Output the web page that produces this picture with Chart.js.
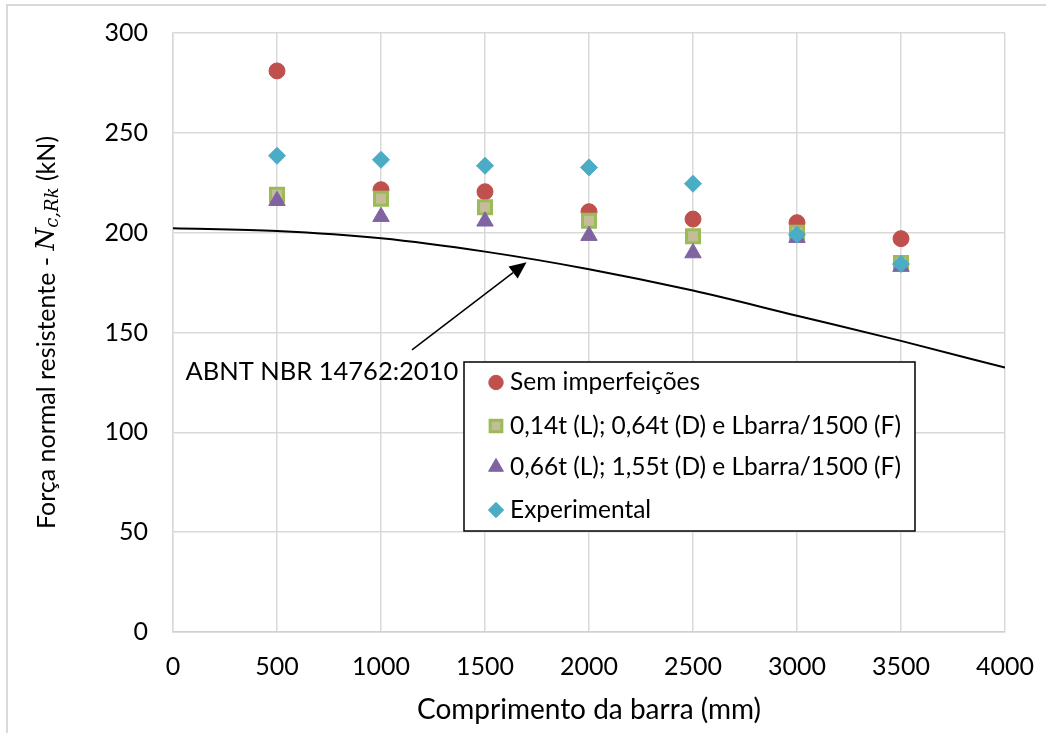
<!DOCTYPE html>
<html>
<head>
<meta charset="utf-8">
<script src="https://cdn.jsdelivr.net/npm/chart.js@4.4.0/dist/chart.umd.min.js"></script>
<style>
  html, body { margin: 0; padding: 0; background: #fff; }
  #wrap { width: 1046px; height: 733px; position: relative; }
</style>
</head>
<body>
<div id="wrap"><canvas id="myChart" width="1046" height="733"></canvas></div>
<script>
// comprimentos das barras (mm)
const lengths = [500, 1000, 1500, 2000, 2500, 3000, 3500];
// Nc,Rk (kN)
const semImperfeicoes = [281, 221.5, 220.5, 210.5, 206.8, 205, 197];
const imperfLD014 = [219, 217, 212.7, 206, 198.2, 200, 184.8];
const imperfLD066 = [216, 208, 205.7, 198.5, 189.8, 197.5, 183];
const experimental = [238.5, 236.5, 233.5, 232.7, 224.5, 199, 184.3];
// curva da norma
const abntLengths = [0, 500, 1000, 1500, 2000, 2500, 3000, 3500, 4000];
const abntValues = [202.2, 200.8, 197.2, 190.5, 181.7, 171, 158.4, 145.8, 132.4];

const seriesLabels = [
  'Sem imperfeições',
  '0,14t (L); 0,64t (D) e Lbarra/1500 (F)',
  '0,66t (L); 1,55t (D) e Lbarra/1500 (F)',
  'Experimental'
];
const xTicks = [0, 500, 1000, 1500, 2000, 2500, 3000, 3500, 4000];
const yTicks = [0, 50, 100, 150, 200, 250, 300];

const FONT = 'Lato, "Open Sans", sans-serif';
Chart.defaults.font.family = FONT;
Chart.defaults.color = '#000';

function pts(xs, ys) {
  return xs.map(function (x, i) { return { x: x, y: ys[i] }; });
}

const markerStyles = [
  { pointStyle: 'circle', radius: 8, backgroundColor: '#c0504d', borderColor: '#c0504d', borderWidth: 1 },
  { pointStyle: 'rect', radius: 9.2, backgroundColor: '#c4bd97', borderColor: '#9bbb59', borderWidth: 3 },
  { pointStyle: 'triangle', radius: 9.5, backgroundColor: '#8064a2', borderColor: '#8064a2', borderWidth: 1 },
  { pointStyle: 'rectRot', radius: 8.5, backgroundColor: '#4bacc6', borderColor: '#4bacc6', borderWidth: 1 }
];

const seriesValues = [semImperfeicoes, imperfLD014, imperfLD066, experimental];

const datasets = seriesValues.map(function (vals, i) {
  const m = markerStyles[i];
  return {
    label: seriesLabels[i],
    data: pts(lengths, vals),
    showLine: false,
    pointStyle: m.pointStyle,
    pointRadius: m.radius,
    pointHoverRadius: m.radius,
    backgroundColor: m.backgroundColor,
    borderColor: m.borderColor,
    pointBorderWidth: m.borderWidth,
    order: 4 - i
  };
});

datasets.push({
  label: 'ABNT NBR 14762:2010',
  data: pts(abntLengths, abntValues),
  showLine: true,
  borderColor: '#000',
  borderWidth: 2,
  pointRadius: 0,
  cubicInterpolationMode: 'monotone',
  order: 10
});

// anotação com seta (em unidades do gráfico)
const annotationText = 'ABNT NBR 14762:2010';
const annotationPos = { x: 60, y: 130.5 };
const arrowFrom = { x: 1149, y: 141.3 };
const arrowTo = { x: 1700, y: 185.2 };

const yTitleParts = [
  { t: 'Força normal resistente - ', font: '25px ' + FONT, dy: 0 },
  { t: 'N', font: 'italic 26px "DejaVu Serif", serif', dy: 0 },
  { t: 'c,Rk', font: 'italic 18px "DejaVu Serif", serif', dy: 6 },
  { t: ' (kN)', font: '25px ' + FONT, dy: 0 }
];

const extras = {
  id: 'extras',
  beforeDraw: function (chart) {
    const ctx = chart.ctx;
    ctx.save();
    ctx.fillStyle = '#fff';
    ctx.fillRect(0, 0, chart.width, chart.height);
    ctx.strokeStyle = '#d9d9d9';
    ctx.lineWidth = 2;
    ctx.beginPath();
    ctx.moveTo(7, chart.height);
    ctx.lineTo(7, 5);
    ctx.lineTo(chart.width, 5);
    ctx.stroke();
    ctx.restore();
  },
  afterDraw: function (chart) {
    const ctx = chart.ctx;
    const xs = chart.scales.x, ys = chart.scales.y;
    const area = chart.chartArea;
    ctx.save();

    // título do eixo y
    ctx.translate(47, (area.top + area.bottom) / 2);
    ctx.rotate(-Math.PI / 2);
    ctx.textBaseline = 'middle';
    ctx.fillStyle = '#000';
    let total = 0;
    yTitleParts.forEach(function (p) { ctx.font = p.font; total += ctx.measureText(p.t).width; });
    let cx = -total / 2;
    yTitleParts.forEach(function (p) {
      ctx.font = p.font;
      ctx.textAlign = 'left';
      ctx.fillText(p.t, cx, p.dy);
      cx += ctx.measureText(p.t).width;
    });
    ctx.setTransform(1, 0, 0, 1, 0, 0);

    // seta
    const x0 = xs.getPixelForValue(arrowFrom.x), y0 = ys.getPixelForValue(arrowFrom.y);
    const x1 = xs.getPixelForValue(arrowTo.x), y1 = ys.getPixelForValue(arrowTo.y);
    const ang = Math.atan2(y1 - y0, x1 - x0);
    const hl = 17, hw = 7.5;
    const bx = x1 - Math.cos(ang) * hl, by = y1 - Math.sin(ang) * hl;
    ctx.strokeStyle = '#000';
    ctx.lineWidth = 1.5;
    ctx.beginPath();
    ctx.moveTo(x0, y0);
    ctx.lineTo(bx, by);
    ctx.stroke();
    ctx.fillStyle = '#000';
    ctx.beginPath();
    ctx.moveTo(x1, y1);
    ctx.lineTo(bx + Math.sin(ang) * hw, by - Math.cos(ang) * hw);
    ctx.lineTo(bx - Math.sin(ang) * hw, by + Math.cos(ang) * hw);
    ctx.closePath();
    ctx.fill();

    // texto da anotação
    ctx.font = '25.5px ' + FONT;
    ctx.textAlign = 'left';
    ctx.textBaseline = 'middle';
    ctx.fillText(annotationText, xs.getPixelForValue(annotationPos.x), ys.getPixelForValue(annotationPos.y));

    // legenda
    const lx = area.left + 291, ly = area.top + 329, lw = 451, lh = 169;
    ctx.fillStyle = '#fff';
    ctx.fillRect(lx, ly, lw, lh);
    ctx.strokeStyle = '#000';
    ctx.lineWidth = 1.5;
    ctx.strokeRect(lx, ly, lw, lh);
    const rowY = [20.5, 64, 105, 148];
    seriesLabels.forEach(function (lab, i) {
      const m = markerStyles[i];
      const py = ly + rowY[i];
      ctx.fillStyle = m.backgroundColor;
      ctx.strokeStyle = m.borderColor;
      ctx.lineWidth = m.borderWidth;
      Chart.helpers.drawPoint(ctx, {
        pointStyle: m.pointStyle, radius: m.radius * 0.9, borderWidth: m.borderWidth, rotation: 0
      }, lx + 32, py);
      ctx.fillStyle = '#000';
      ctx.font = '24.5px ' + FONT;
      ctx.textAlign = 'left';
      ctx.textBaseline = 'middle';
      ctx.fillText(lab, lx + 46, py);
    });
    ctx.restore();
  }
};

const chart = new Chart(document.getElementById('myChart'), {
  type: 'scatter',
  data: { datasets: datasets },
  plugins: [extras],
  options: {
    responsive: false,
    animation: false,
    layout: { padding: { left: 0, right: 41, top: 33, bottom: 0 } },
    plugins: {
      legend: { display: false },
      tooltip: { enabled: false }
    },
    scales: {
      x: {
        type: 'linear',
        min: 0,
        max: 4000,
        afterBuildTicks: function (scale) {
          scale.ticks = xTicks.map(function (v) { return { value: v }; });
        },
        afterFit: function (scale) {
          scale.height = 101;
          scale.paddingLeft = 0;
          scale.paddingRight = 0;
        },
        grid: { color: '#d9d9d9', lineWidth: 1.5, drawTicks: false },
        border: { color: '#d0d0d0', width: 1.5 },
        ticks: {
          padding: 20, font: { size: 25 }, color: '#000', maxRotation: 0,
          callback: function (v) { return String(v); }
        },
        title: {
          display: true,
          text: 'Comprimento da barra (mm)',
          font: { size: 28 },
          color: '#000',
          padding: { top: 0, bottom: 6 }
        }
      },
      y: {
        type: 'linear',
        min: 0,
        max: 300,
        afterBuildTicks: function (scale) {
          scale.ticks = yTicks.map(function (v) { return { value: v }; });
        },
        afterFit: function (scale) {
          scale.width = 173;
          scale.paddingTop = 0;
          scale.paddingBottom = 0;
        },
        grid: { color: '#d9d9d9', lineWidth: 1.5, drawTicks: false },
        border: { color: '#d9d9d9', width: 1.5 },
        ticks: {
          padding: 25, font: { size: 25 }, color: '#000',
          callback: function (v) { return String(v); }
        }
      }
    }
  }
});
</script>
</body>
</html>
